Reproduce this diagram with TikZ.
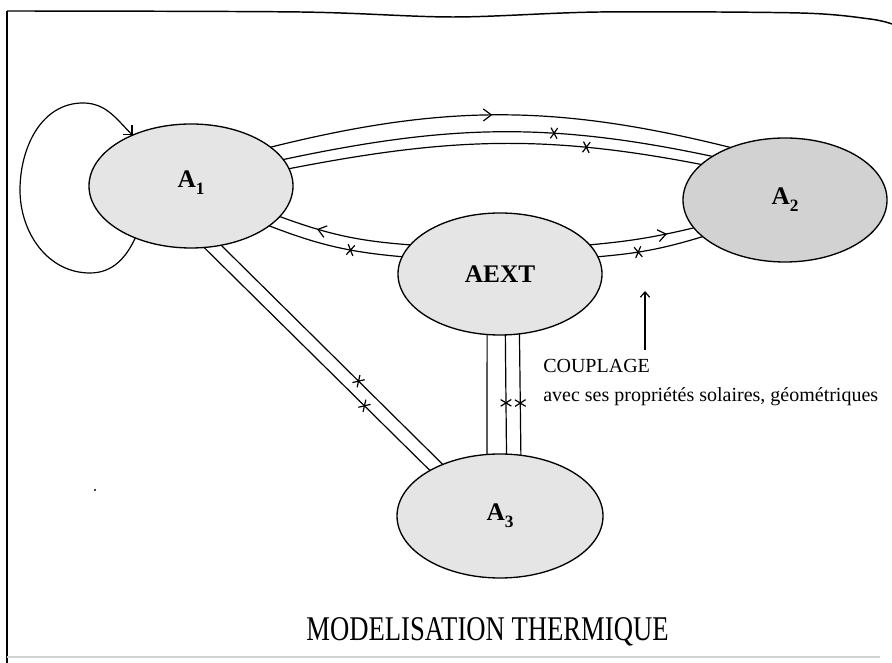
\documentclass[tikz,border=0pt]{standalone}
\usepackage{fontspec}
\setmainfont{Liberation Serif}
\usetikzlibrary{shapes.geometric,arrows.meta,decorations.markings}
\newcommand\subidx[1]{\raisebox{-0.6ex}{\fontsize{13}{13}\selectfont\bfseries #1}}
\begin{document}
\begin{tikzpicture}[x=0.75pt,y=0.75pt,
  zone/.style={ellipse,draw=black,line width=1pt,fill=gray!20,minimum width=153pt,minimum height=93pt,inner sep=0pt,outer sep=0pt,font=\fontsize{19}{21}\selectfont\bfseries},
  link/.style={line width=0.9pt},
  arrowmark/.style={postaction={decorate,decoration={markings,mark=at position #1 with {\draw[line width=0.9pt] (-6pt,4.5pt) -- (0pt,0pt) -- (-6pt,-4.5pt);}}}},
  crossmark/.style={postaction={decorate,decoration={markings,mark=at position #1 with {\draw[line width=0.9pt] (-2.5pt,-4pt) -- (2.5pt,4pt) (-2.5pt,4pt) -- (2.5pt,-4pt);}}}},
  looparrow/.style={-{Straight Barb[length=5pt,width=10pt]}},
  framestyle/.style={line width=1.1pt},
]
\useasboundingbox (0,0) rectangle (892,663);
% frame
\draw[framestyle] plot[smooth,tension=0.5] coordinates {(7,652) (300,651) (453,646) (600,651) (800,650) (870,644) (892,639)};
\draw[framestyle] (7,652) -- (7,0);
\draw[gray!35,line width=1pt] (7,6) -- (880,6);

% zones
\node[zone] (A1) at (191,477) {\raisebox{1.2ex}{A\subidx{1}}};
\node[zone,fill=gray!35] (A2) at (785,463) {\raisebox{0.2ex}{A\subidx{2}}};
\node[zone,minimum height=91.5pt] (AEXT) at (500,389) {\raisebox{-1ex}{AEXT}};
\node[zone,minimum width=154.5pt] (A3) at (500,147) {\raisebox{-0.6ex}{A\subidx{3}}};

% A1 - A2 couplings
\draw[link,arrowmark=0.48] (A1.26) to[out=14,in=166] (A2.136.5);
\draw[link,crossmark=0.63] (A1.16) to[out=12,in=168] (A2.149);
\draw[link,crossmark=0.72] (A1.10) to[out=11,in=169] (A2.157.6);

% A1 - AEXT
\draw[link,arrowmark=0.7] (AEXT.162.5) to[bend left=8] (A1.341);
\draw[link,crossmark=0.62] (A1.333.4) to[bend right=8] (AEXT.170);

% AEXT - A2
\draw[link,arrowmark=0.73] (AEXT.18.4) to[bend right=4] (A2.197);
\draw[link,crossmark=0.38] (AEXT.10.4) to[bend right=6] (A2.204);

% A1 - A3
\draw[link,crossmark=0.71] (A1.282.3) -- (A3.147.8);
\draw[link,crossmark=0.62] (A1.297.3) -- (A3.138.7);

% AEXT - A3
\draw[link] (AEXT.258) -- (A3.102);
\draw[link,crossmark=0.57] (AEXT.275.6) -- (A3.84.5);
\draw[link,crossmark=0.57] (AEXT.288.5) -- (A3.71.8);

% self loop on A1
\coordinate (lpB) at (90,390);
\coordinate (lpL) at (20,473);
\coordinate (lpT) at (83,560);
\draw[link,looparrow] (A1.223) to[out=245,in=0] (lpB) to[out=180,in=270] (lpL) to[out=90,in=180] (lpT) to[out=0,in=135] (A1.139);

% couplage pointer
\coordinate (cpl0) at (645,313);
\coordinate (cpl1) at (645,372);
\draw[link,-{Straight Barb[length=4pt,width=7pt]}] (cpl0) -- (cpl1);

% texts
\node[anchor=base west,font=\fontsize{15}{18}\selectfont,inner sep=0pt] (coup) at (543,290) {COUPLAGE};
\node[anchor=base west,font=\fontsize{15}{18}\selectfont,inner sep=0pt] (props) at (543,261) {avec ses propriétés solaires, géométriques};
\node[font=\fontsize{20}{24}\selectfont,inner sep=0pt] (title) at (487.5,31) {\scalebox{1}[1.3]{MODELISATION THERMIQUE}};

% speck
\fill (95,173) circle (1.2);
\end{tikzpicture}
\end{document}
